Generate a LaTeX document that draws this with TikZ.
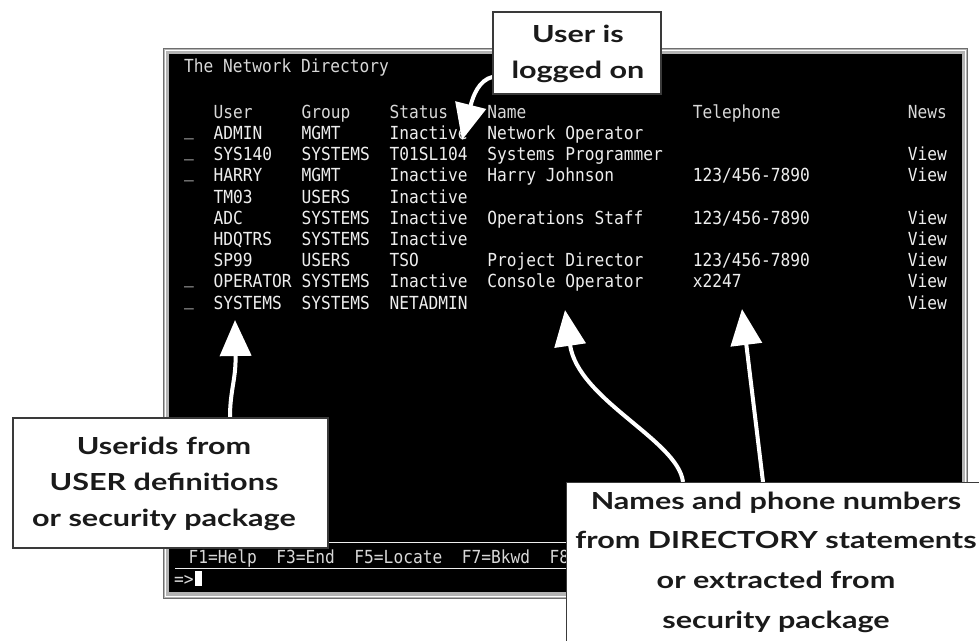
\documentclass[tikz,border=0pt]{standalone}
\usepackage{fontspec}
\usetikzlibrary{arrows.meta}
\newfontfamily\termfont[FakeStretch=0.9]{DejaVu Sans Mono}
\newfontfamily\notefont[FakeStretch=1.3]{Lato}
\definecolor{bezel}{HTML}{B4B4B4}
\definecolor{bezeldark}{HTML}{6E6E6E}
\definecolor{screenink}{HTML}{EEEEEE}
\definecolor{headink}{HTML}{D8D8D8}
\definecolor{noteink}{HTML}{1A1A1A}
\definecolor{noteedge}{HTML}{3A3A3A}
\pgfdeclarelayer{back}
\pgfdeclarelayer{mid}
\pgfsetlayers{back,mid,main}
\tikzset{
  cell/.style={font=\termfont\fontsize{18}{18}\selectfont, text=screenink,
    anchor=base west, inner sep=0pt},
  headcell/.style={cell, text=headink},
  note/.style={fill=white, draw=noteedge, line width=1.2pt, inner sep=0pt},
  notetext/.style={text=noteink, align=center, inner sep=0pt,
    font=\notefont\bfseries\fontsize{23.5}{36}\selectfont},
  pointer/.style={draw=white, line width=4pt,
    -{Triangle[length=36pt,width=31pt]}},
}
\begin{document}
\begin{tikzpicture}[x=1pt,y=-1pt]
\useasboundingbox (0,0) rectangle (979,640);
\clip (0,0) rectangle (979,640);

% ---------- terminal screen ----------
\begin{pgfonlayer}{back}
  \fill[bezel] (163,48) rectangle (968,599);
  \draw[bezeldark, line width=1pt] (163.5,48.5) rectangle (967.5,598.5);
  \draw[white, line width=1.2pt] (165.5,50.5) rectangle (965.5,596.5);
  \fill[black] (169,54) rectangle (962,592);

  % title and column headings
  \node[headcell] (title) at (184,72) {The Network Directory};
  \node[headcell] (hUser)  at (213.3,118) {User};
  \node[headcell] (hGroup) at (301.4,118) {Group};
  \node[headcell] (hStat)  at (389.4,118) {Status};
  \node[headcell] (hName)  at (487.2,118) {Name};
  \node[headcell] (hTel)   at (692.6,118) {Telephone};
  \node[headcell] (hNews)  at (907.7,118) {News};

  % directory rows
  \foreach \uid/\grp/\st/\nm/\tel/\nw [count=\k from 0] in {
      ADMIN/MGMT/Inactive/Network Operator/{}/{},
      SYS140/SYSTEMS/T01SL104/Systems Programmer/{}/View,
      HARRY/MGMT/Inactive/Harry Johnson/{123/456-7890}/View,
      TM03/USERS/Inactive/{}/{}/{},
      ADC/SYSTEMS/Inactive/Operations Staff/{123/456-7890}/View,
      HDQTRS/SYSTEMS/Inactive/{}/{}/View,
      SP99/USERS/TSO/Project Director/{123/456-7890}/View,
      OPERATOR/SYSTEMS/Inactive/Console Operator/x2247/View,
      SYSTEMS/SYSTEMS/NETADMIN/{}/{}/View}{
    \pgfmathsetmacro\yb{139.5+21.2*\k}
    \node[cell] (uid\k) at (213.3,\yb) {\uid};
    \node[cell] (grp\k) at (301.4,\yb) {\grp};
    \node[cell] (st\k)  at (389.4,\yb) {\st};
    \node[cell] (nm\k)  at (487.2,\yb) {\nm};
    \node[cell] (tel\k) at (692.6,\yb) {\tel};
    \node[cell] (nw\k)  at (907.7,\yb) {\nw};
  }
  % selection fields
  \foreach \k in {0,1,2,7,8}{
    \pgfmathsetmacro\yb{135.5+21.2*\k}
    \node[cell] (sel\k) at (184,\yb) {\_};
  }

  % function key line (runs on under the right-hand note) and command line
  \draw[screenink, line width=1pt] (172,542) -- (959,542);
  \begin{scope}
    \clip (169,545) rectangle (565,566);
    \node[headcell] (pfkeys) at (188.5,563)
      {F1=Help~~F3=End~~F5=Locate~~F7=Bkwd~~F8=Fwd};
  \end{scope}
  \draw[screenink, line width=1pt] (175,568) -- (959,568);
  \node[headcell] (prompt) at (174,585) {=>};
  \fill[white] (195,571) rectangle (202,586);
\end{pgfonlayer}

% ---------- callouts ----------
\node[note, minimum width=168, minimum height=82] (loggedbox) at (577,53) {};
\node[notetext] (loggedtext) at (578,54) {User is\\logged on};

\node[note, minimum width=315, minimum height=130] (useridbox) at (170.5,483) {};
\node[notetext] (useridtext) at (164,484) {Userids from\\USER definitions\\or security package};

\node[note, anchor=north west, minimum width=430, minimum height=200] (namesbox) at (566,482) {};
\node[notetext, font=\notefont\bfseries\fontsize{23.5}{39.7}\selectfont] (namestext) at (776,562)
  {Names and phone numbers\\from DIRECTORY statements\\or extracted from\\security package};

% ---------- pointers ----------
\begin{pgfonlayer}{mid}
  \draw[pointer] (loggedbox.west |- 0,77) .. controls (479,80) and (473,96) .. (462,140);
  \draw[pointer] (useridbox.north -| 230,0) .. controls (230,390) and (236,380) .. (235,320);
  \draw[pointer] (namesbox.north -| 683,0) .. controls (678,440) and (578,400) .. (565,310);
  \draw[pointer] (namesbox.north -| 763,0) -- (742,309);
\end{pgfonlayer}
\end{tikzpicture}
\end{document}
